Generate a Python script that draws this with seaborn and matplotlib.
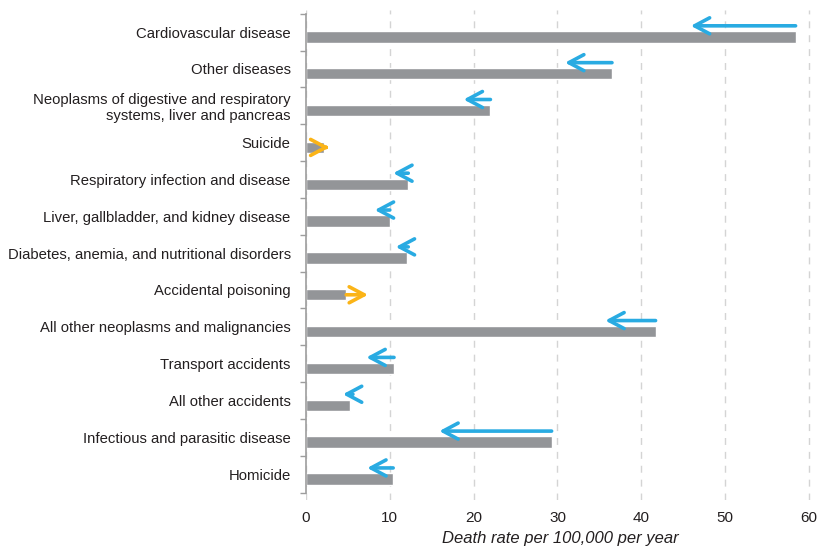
import matplotlib
matplotlib.use("Agg")
import matplotlib.pyplot as plt
import numpy as np
import pandas as pd
import seaborn as sns

# data
causes = [
    "Cardiovascular disease",
    "Other diseases",
    "Neoplasms of digestive and respiratory\nsystems, liver and pancreas",
    "Suicide",
    "Respiratory infection and disease",
    "Liver, gallbladder, and kidney disease",
    "Diabetes, anemia, and nutritional disorders",
    "Accidental poisoning",
    "All other neoplasms and malignancies",
    "Transport accidents",
    "All other accidents",
    "Infectious and parasitic disease",
    "Homicide",
]
rate = [58.4, 36.5, 22.0, 2.2, 12.2, 10.0, 12.1, 4.8, 41.7, 10.5, 5.2, 29.3, 10.4]
arrow_start = [58.4, 36.5, 22.0, 2.2, 12.2, 10.0, 12.2, 4.8, 41.7, 10.5, 5.6, 29.3, 10.4]
arrow_end = [45.9, 30.9, 18.8, 2.8, 10.4, 8.2, 10.7, 7.4, 35.7, 7.2, 4.4, 15.9, 7.3]

bar_grey = "#939598"
blue = "#29abe2"
orange = "#fbb417"

sns.set_theme(style="white")
plt.rcParams["font.family"] = ["Liberation Sans", "DejaVu Sans"]

pos = np.arange(len(causes))
df = pd.DataFrame({"pos": pos + 0.13, "rate": rate})

fig = plt.figure(figsize=(8.21, 5.48), dpi=100)
ax = fig.add_axes([0.3727, 0.0876, 0.6188, 0.8942])

sns.barplot(data=df, x="rate", y="pos", orient="h", native_scale=True,
            width=0.31, color=bar_grey, saturation=1, ax=ax, zorder=2)

for i in range(len(causes)):
    if arrow_end[i] < arrow_start[i]:
        # decreasing: blue arrow above the bar
        c, y = blue, pos[i] - 0.17
    else:
        # increasing: orange arrow level with the bar
        c, y = orange, pos[i] + 0.13
    ax.annotate("", xy=(arrow_end[i], y), xytext=(arrow_start[i], y),
                arrowprops=dict(arrowstyle="->,head_length=0.6,head_width=0.32",
                                color=c, lw=2.6, mutation_scale=18,
                                shrinkA=0, shrinkB=0), zorder=3)

ax.set_xlim(0, 60.6)
ax.set_ylim(12.7, -0.6)
ax.set_xticks([0, 10, 20, 30, 40, 50, 60])
ax.set_yticks(pos)
ax.set_yticklabels(causes, fontsize=10.7, color="#231f20")
ax.set_yticks(np.arange(-0.5, 13, 1), minor=True)
ax.tick_params(axis="y", which="major", length=0, pad=11)
ax.tick_params(axis="y", which="minor", length=4, width=1, color="#9d9d9d", direction="out", left=True)
ax.tick_params(axis="x", length=0, pad=8, labelsize=11, labelcolor="#231f20")

ax.xaxis.grid(True, linestyle=(0, (5, 5)), color="#d4d4d4", lw=1)
ax.set_axisbelow(True)
for s in ["top", "right", "bottom"]:
    ax.spines[s].set_visible(False)
ax.spines["left"].set_color("#9d9d9d")
ax.spines["left"].set_linewidth(1.2)
ax.spines["left"].set_bounds(-0.5, 12.5)

ax.set_ylabel("")
ax.set_xlabel("Death rate per 100,000 per year", fontsize=12, style="italic",
              color="#231f20", labelpad=4)

fig.savefig("out.png", dpi=100)
